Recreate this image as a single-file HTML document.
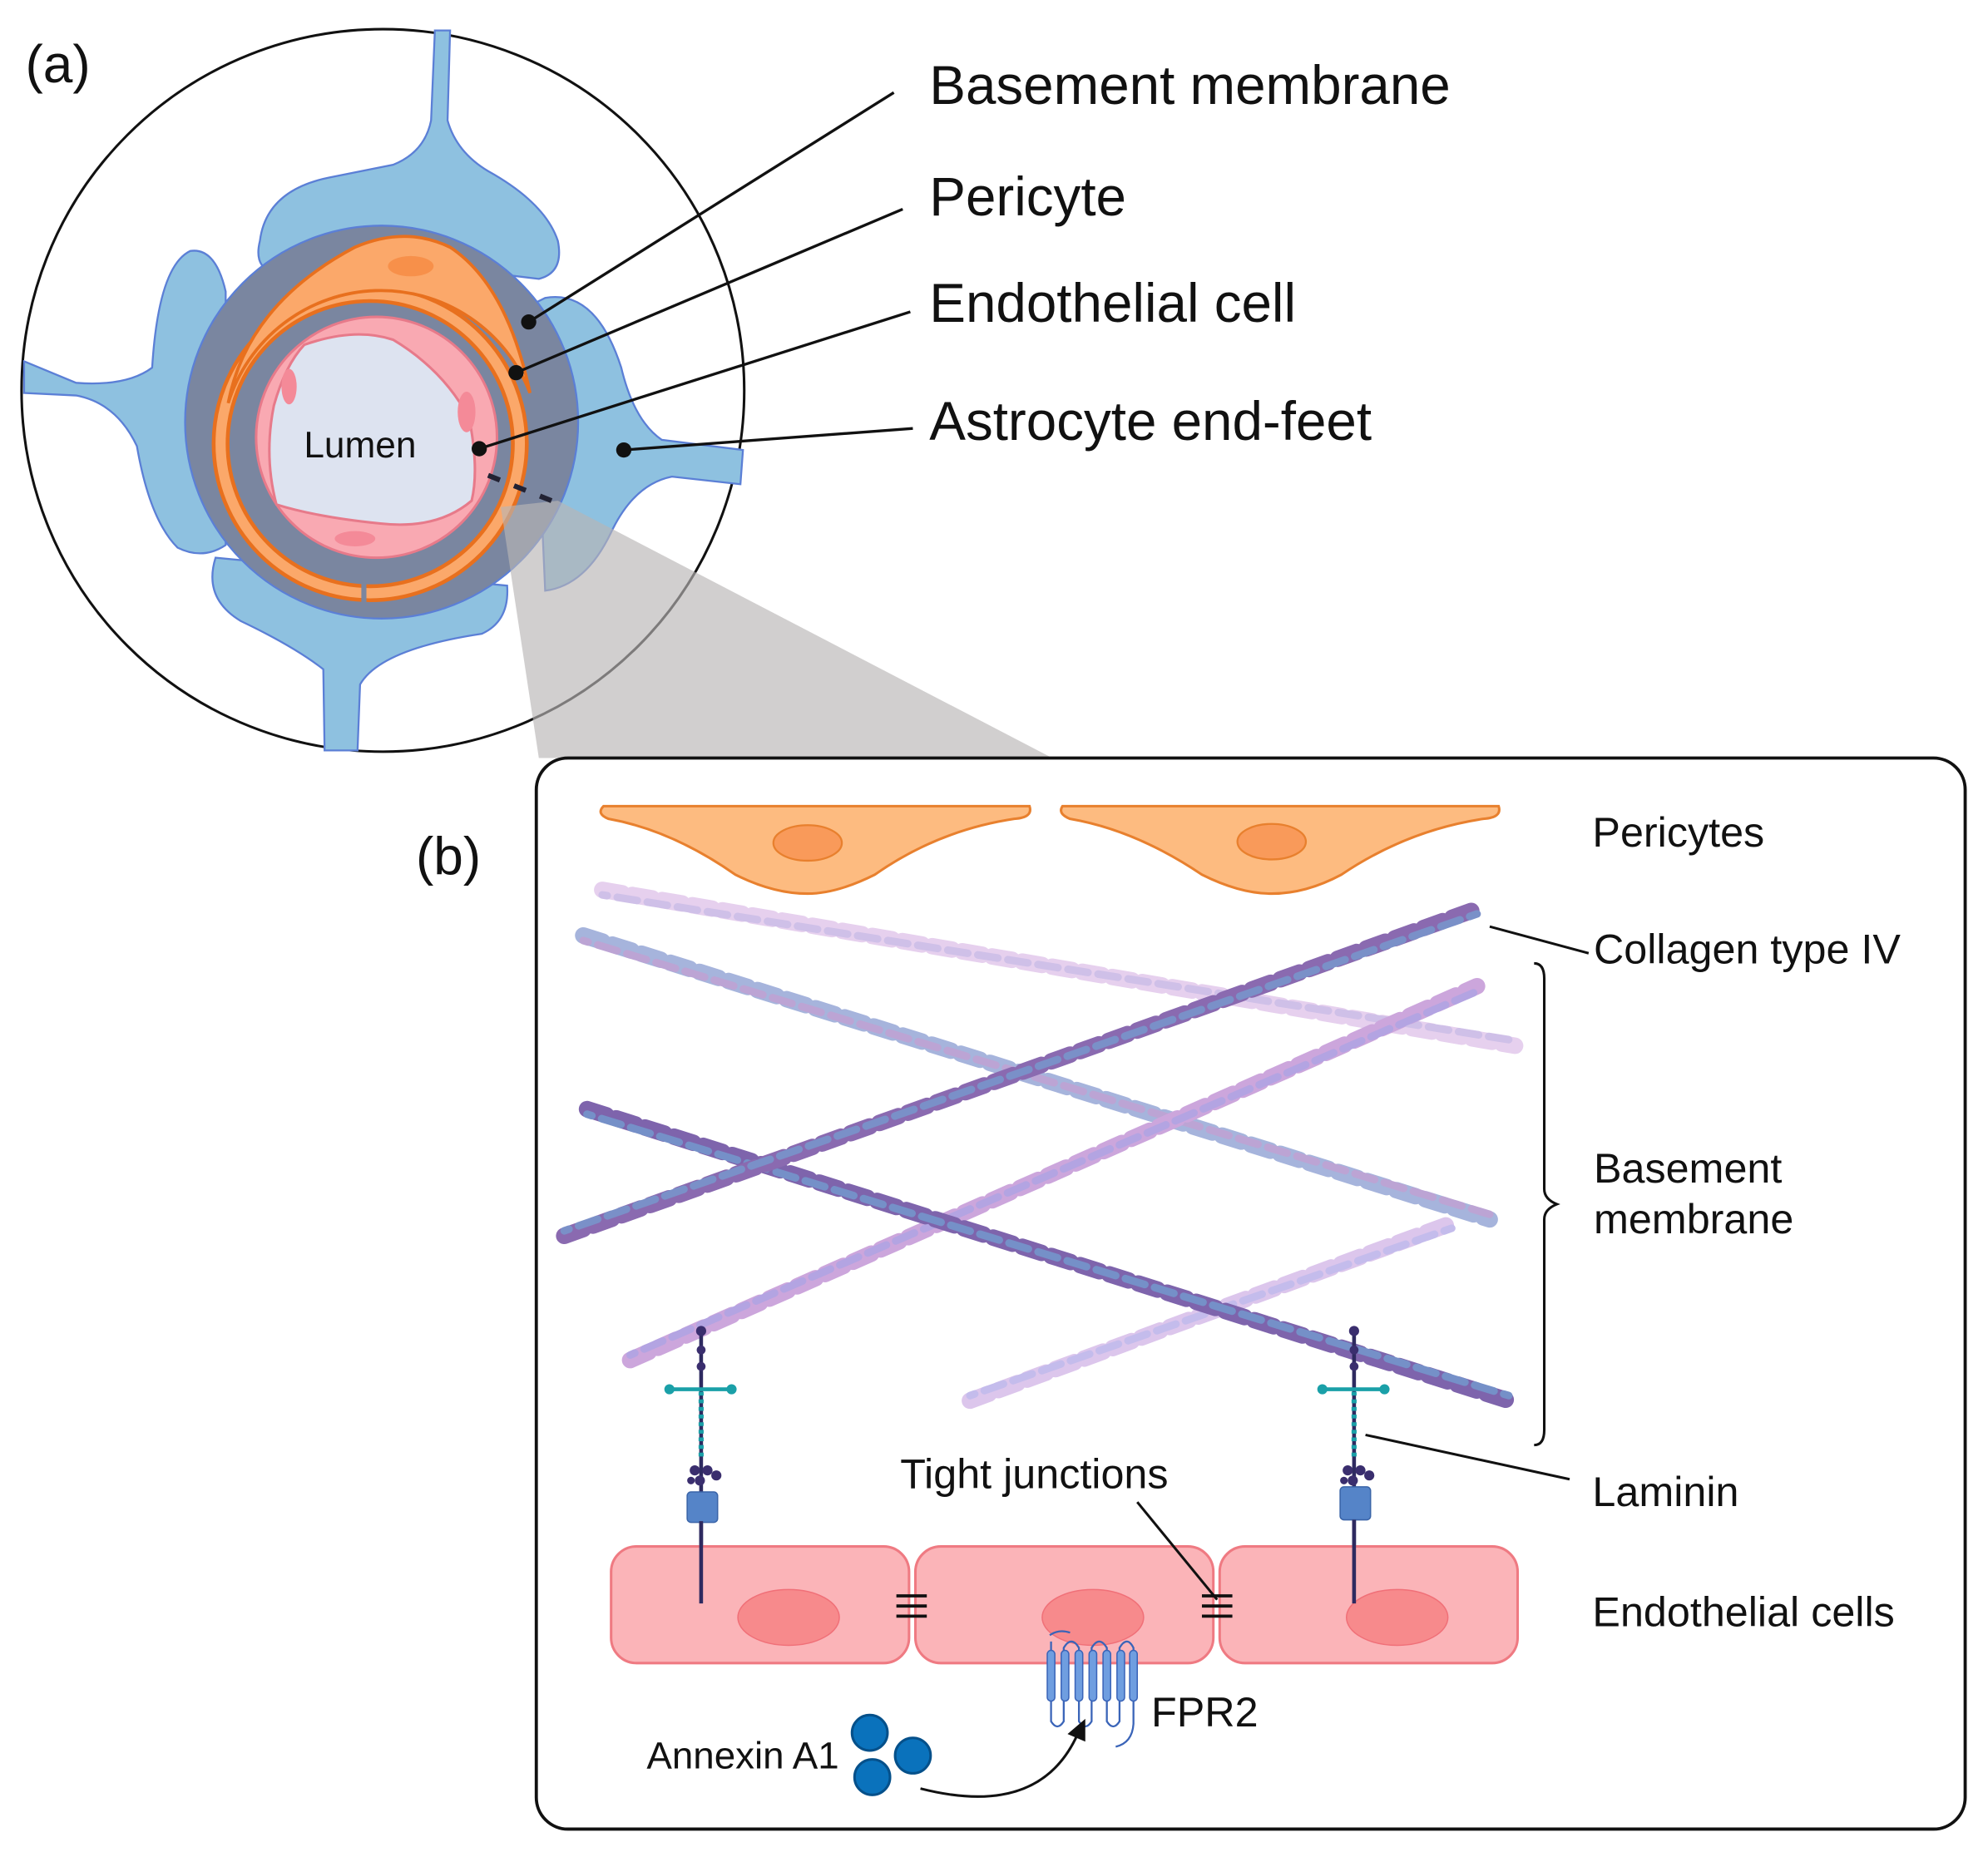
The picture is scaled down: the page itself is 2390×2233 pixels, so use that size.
<!DOCTYPE html>
<html><head><meta charset="utf-8"><style>
html,body{margin:0;padding:0;background:#fff;}
svg{display:block;}
text{font-family:"Liberation Sans",sans-serif;fill:#111;}
</style></head><body>
<svg width="2390" height="2233" viewBox="0 0 1568 1465" xmlns="http://www.w3.org/2000/svg">
<rect width="1568" height="1465" fill="#fff"/>
<!-- (a) -->
<text x="20" y="65" font-size="42">(a)</text>
<circle cx="302" cy="308" r="285" fill="#fff" stroke="#111" stroke-width="2"/>
<!-- astrocyte -->
<g fill="#8ec1e0" stroke="#5b7fd6" stroke-width="1.5">
<path d="M205,190 Q210,150 260,140 L310,130 Q335,120 340,95 L343,24 L355,24 L353,95 Q360,120 385,135 Q430,160 440,190 Q445,215 425,220 L300,205 L215,215 Q200,210 205,190 Z"/>
<path d="M120,290 Q100,305 60,302 L19,285 L19,310 L60,312 Q92,318 108,352 Q118,410 140,432 Q160,442 178,430 L178,230 Q170,195 150,198 Q125,210 120,290 Z"/>
<path d="M170,440 Q160,472 190,490 Q232,510 255,528 L256,592 L282,592 L284,540 Q300,512 380,500 Q402,490 400,462 L170,440 Z"/>
<path d="M430,235 Q470,228 490,290 Q500,332 522,347 L586,355 L584,382 L530,376 Q500,382 482,420 Q462,462 430,466 L420,240 Z"/>
</g>
<circle cx="301" cy="333" r="155" fill="#7a86a0" stroke="#5b7fd6" stroke-width="1.5"/>
<!-- pericyte -->
<circle cx="292" cy="350" r="118" fill="none" stroke="#e8701e" stroke-width="14"/>
<circle cx="292" cy="350" r="118" fill="none" stroke="#fba86a" stroke-width="8"/>
<path d="M180,318 Q195,240 280,195 Q320,178 355,195 Q400,225 418,310 A126,126 0 0 0 180,318 Z" fill="#fba86a" stroke="#e8701e" stroke-width="2.5"/>
<ellipse cx="324" cy="210" rx="18" ry="8" fill="#f7904a"/>
<line x1="287" y1="455" x2="287" y2="475" stroke="#7a86a0" stroke-width="4"/>
<!-- endothelial ring -->
<circle cx="297" cy="345" r="95" fill="#f9a9b2" stroke="#e77a8a" stroke-width="2"/>
<path d="M240,272 Q280,258 310,268 Q350,292 370,330 Q378,370 372,395 Q345,418 300,413 Q250,408 218,398 Q208,360 216,320 Q225,288 240,272 Z" fill="#dde3f0" stroke="#e77a8a" stroke-width="2"/>
<ellipse cx="368" cy="325" rx="7" ry="16" fill="#f48a98"/>
<ellipse cx="280" cy="425" rx="16" ry="6" fill="#f48a98"/>
<ellipse cx="228" cy="305" rx="6" ry="14" fill="#f48a98"/>
<text x="284" y="361" font-size="29" text-anchor="middle">Lumen</text>
<!-- wedge -->
<polygon points="395,400 440,395 830,598 425,598" fill="#b8b5b5" fill-opacity="0.65"/>
<line x1="385" y1="375" x2="435" y2="395" stroke="#223" stroke-width="4" stroke-dasharray="10 12"/>
<!-- leaders -->
<g stroke="#111" stroke-width="2.2">
<line x1="705" y1="73" x2="417" y2="254"/>
<line x1="712" y1="165" x2="407" y2="294"/>
<line x1="718" y1="246" x2="378" y2="354"/>
<line x1="720" y1="338" x2="492" y2="355"/>
</g>
<g fill="#111"><circle cx="417" cy="254" r="6"/><circle cx="407" cy="294" r="6"/><circle cx="378" cy="354" r="6"/><circle cx="492" cy="355" r="6"/></g>
<text x="733" y="82" font-size="43">Basement membrane</text>
<text x="733" y="170" font-size="43">Pericyte</text>
<text x="733" y="254" font-size="43">Endothelial cell</text>
<text x="733" y="347" font-size="43">Astrocyte end-feet</text>
<!-- (b) -->
<text x="328" y="690" font-size="42">(b)</text>
<rect x="423" y="598" width="1127" height="845" rx="25" fill="#fff" stroke="#111" stroke-width="2.5"/>
<!-- pericytes -->
<g fill="#fdbb80" stroke="#e8802e" stroke-width="2">
<path d="M476,636 L812,636 Q815,645 800,646 Q740,655 690,690 Q660,705 637,705 Q610,705 580,690 Q530,655 480,646 Q470,642 476,636 Z"/>
<path d="M838,636 L1182,636 Q1185,645 1170,646 Q1110,655 1058,690 Q1030,705 1003,705 Q978,705 948,690 Q896,655 844,646 Q834,642 838,636 Z"/>
</g>
<ellipse cx="637" cy="665" rx="27" ry="14" fill="#f99a5a" stroke="#e8802e" stroke-width="1.5"/>
<ellipse cx="1003" cy="664" rx="27" ry="14" fill="#f99a5a" stroke="#e8802e" stroke-width="1.5"/>
<!-- collagen strands -->
<g fill="none" stroke-linecap="round">
<line x1="475" y1="702" x2="1195" y2="825" stroke="#e6d0ee" stroke-width="13" stroke-dasharray="16 8"/>
<line x1="475" y1="706" x2="1195" y2="821" stroke="#cfc0e8" stroke-dasharray="16 8" stroke-dashoffset="12" stroke-width="6"/>
<line x1="765" y1="1105" x2="1145" y2="965" stroke="#dcc6ec" stroke-width="13" stroke-dasharray="16 8"/>
<line x1="765" y1="1101" x2="1145" y2="969" stroke="#c4bcec" stroke-dasharray="16 8" stroke-dashoffset="12" stroke-width="6"/>
<line x1="460" y1="738" x2="1175" y2="962" stroke="#a6b4dc" stroke-width="13" stroke-dasharray="16 8"/>
<line x1="460" y1="742" x2="1175" y2="958" stroke="#bca4d4" stroke-dasharray="16 8" stroke-dashoffset="12" stroke-width="6"/>
<line x1="497" y1="1073" x2="1165" y2="778" stroke="#cca6dc" stroke-width="13" stroke-dasharray="16 8"/>
<line x1="497" y1="1069" x2="1165" y2="782" stroke="#b3a4e2" stroke-dasharray="16 8" stroke-dashoffset="12" stroke-width="6"/>
<line x1="463" y1="875" x2="1190" y2="1105" stroke="#7e64ac" stroke-width="13" stroke-dasharray="16 8"/>
<line x1="463" y1="879" x2="1190" y2="1101" stroke="#7590c8" stroke-dasharray="16 8" stroke-dashoffset="12" stroke-width="6"/>
<line x1="445" y1="975" x2="1165" y2="717" stroke="#8a6ab0" stroke-width="13" stroke-dasharray="16 8"/>
<line x1="445" y1="971" x2="1165" y2="721" stroke="#7a90c8" stroke-dasharray="16 8" stroke-dashoffset="12" stroke-width="6"/>
</g>
<!-- laminin -->
<g>
<line x1="553" y1="1048" x2="553" y2="1265" stroke="#2e2a60" stroke-width="3"/>
<line x1="553" y1="1098" x2="553" y2="1150" stroke="#1aa0a8" stroke-width="4" stroke-dasharray="3 3"/>
<line x1="527" y1="1096" x2="579" y2="1096" stroke="#1aa0a8" stroke-width="3"/>
<circle cx="528" cy="1096" r="4" fill="#1aa0a8"/><circle cx="577" cy="1096" r="4" fill="#1aa0a8"/>
<circle cx="553" cy="1050" r="4" fill="#3a2e6e"/><circle cx="553" cy="1065" r="3.5" fill="#3a2e6e"/><circle cx="553" cy="1078" r="3.5" fill="#3a2e6e"/>
<circle cx="548" cy="1160" r="4" fill="#3a2e6e"/><circle cx="558" cy="1160" r="4" fill="#3a2e6e"/><circle cx="552" cy="1168" r="4" fill="#3a2e6e"/><circle cx="565" cy="1164" r="4" fill="#3a2e6e"/><circle cx="545" cy="1168" r="3" fill="#3a2e6e"/>
<rect x="542" y="1177" width="24" height="24" rx="3" fill="#5584c8" stroke="#3a64a8"/>
</g>
<g transform="translate(515,0)">
<line x1="553" y1="1048" x2="553" y2="1265" stroke="#2e2a60" stroke-width="3"/>
<line x1="553" y1="1098" x2="553" y2="1150" stroke="#1aa0a8" stroke-width="4" stroke-dasharray="3 3"/>
<line x1="527" y1="1096" x2="579" y2="1096" stroke="#1aa0a8" stroke-width="3"/>
<circle cx="528" cy="1096" r="4" fill="#1aa0a8"/><circle cx="577" cy="1096" r="4" fill="#1aa0a8"/>
<circle cx="553" cy="1050" r="4" fill="#3a2e6e"/><circle cx="553" cy="1065" r="3.5" fill="#3a2e6e"/><circle cx="553" cy="1078" r="3.5" fill="#3a2e6e"/>
<circle cx="548" cy="1160" r="4" fill="#3a2e6e"/><circle cx="558" cy="1160" r="4" fill="#3a2e6e"/><circle cx="552" cy="1168" r="4" fill="#3a2e6e"/><circle cx="565" cy="1164" r="4" fill="#3a2e6e"/><circle cx="545" cy="1168" r="3" fill="#3a2e6e"/>
<rect x="542" y="1173" width="24" height="26" rx="3" fill="#5584c8" stroke="#3a64a8"/>
</g>
<!-- endothelial cells -->
<g fill="#fbb4b8" stroke="#ef7a82" stroke-width="2">
<rect x="482" y="1220" width="235" height="92" rx="20"/>
<rect x="722" y="1220" width="235" height="92" rx="20"/>
<rect x="962" y="1220" width="235" height="92" rx="20"/>
</g>
<g fill="#f78a8c" stroke="#f07078" stroke-width="1">
<ellipse cx="622" cy="1276" rx="40" ry="22"/><ellipse cx="862" cy="1276" rx="40" ry="22"/><ellipse cx="1102" cy="1276" rx="40" ry="22"/>
</g>
<line x1="553" y1="1200" x2="553" y2="1265" stroke="#2e2a60" stroke-width="3"/>
<line x1="1068" y1="1199" x2="1068" y2="1265" stroke="#2e2a60" stroke-width="3"/>
<g stroke="#111" stroke-width="2.5">
<line x1="707" y1="1259" x2="731" y2="1259"/><line x1="707" y1="1267" x2="731" y2="1267"/><line x1="707" y1="1275" x2="731" y2="1275"/>
<line x1="948" y1="1259" x2="972" y2="1259"/><line x1="948" y1="1267" x2="972" y2="1267"/><line x1="948" y1="1275" x2="972" y2="1275"/>
<line x1="897" y1="1185" x2="960" y2="1262" stroke-width="2"/>
</g>
<!-- FPR2 -->
<g fill="none" stroke="#3a64b8" stroke-width="1.5">
<path d="M828,1290 Q835,1285 844,1288"/>
<path d="M829,1295 L829,1358 Q834,1366 839,1358 L839,1300 Q845,1290 851,1300 L851,1358 Q856,1366 861,1358 L861,1300 Q867,1290 873,1300 L873,1358 Q878,1366 883,1358 L883,1300 Q889,1290 894,1300 L894,1360 Q893,1375 880,1378"/>
</g>
<g fill="#6f9ee0" stroke="#3a64b8" stroke-width="1">
<rect x="826" y="1302" width="6" height="40" rx="3"/><rect x="837" y="1302" width="6" height="40" rx="3"/><rect x="848" y="1302" width="6" height="40" rx="3"/><rect x="859" y="1302" width="6" height="40" rx="3"/><rect x="870" y="1302" width="6" height="40" rx="3"/><rect x="881" y="1302" width="6" height="40" rx="3"/><rect x="891" y="1302" width="6" height="40" rx="3"/>
</g>
<text x="908" y="1362" font-size="33">FPR2</text>
<g fill="#0a72bc" stroke="#05508a" stroke-width="2">
<circle cx="686" cy="1367" r="14"/><circle cx="720" cy="1385" r="14"/><circle cx="688" cy="1402" r="14"/>
</g>
<text x="510" y="1395" font-size="30">Annexin A1</text>
<path d="M726,1411 Q820,1435 850,1368" fill="none" stroke="#111" stroke-width="2"/>
<polygon points="856,1356 842,1368 856,1374" fill="#111"/>
<text x="710" y="1174" font-size="33">Tight junctions</text>
<!-- right labels -->
<text x="1256" y="668" font-size="33">Pericytes</text>
<line x1="1175" y1="731" x2="1253" y2="752" stroke="#111" stroke-width="2"/>
<text x="1257" y="760" font-size="33">Collagen type IV</text>
<path d="M1210,760 Q1218,760 1218,772 L1218,938 Q1218,946 1228,950 Q1218,954 1218,962 L1218,1128 Q1218,1140 1210,1140" fill="none" stroke="#111" stroke-width="2"/>
<text x="1257" y="933" font-size="33">Basement</text>
<text x="1257" y="973" font-size="33">membrane</text>
<line x1="1077" y1="1132" x2="1238" y2="1167" stroke="#111" stroke-width="2"/>
<text x="1256" y="1188" font-size="33">Laminin</text>
<text x="1256" y="1283" font-size="33">Endothelial cells</text>
</svg>
</body></html>
